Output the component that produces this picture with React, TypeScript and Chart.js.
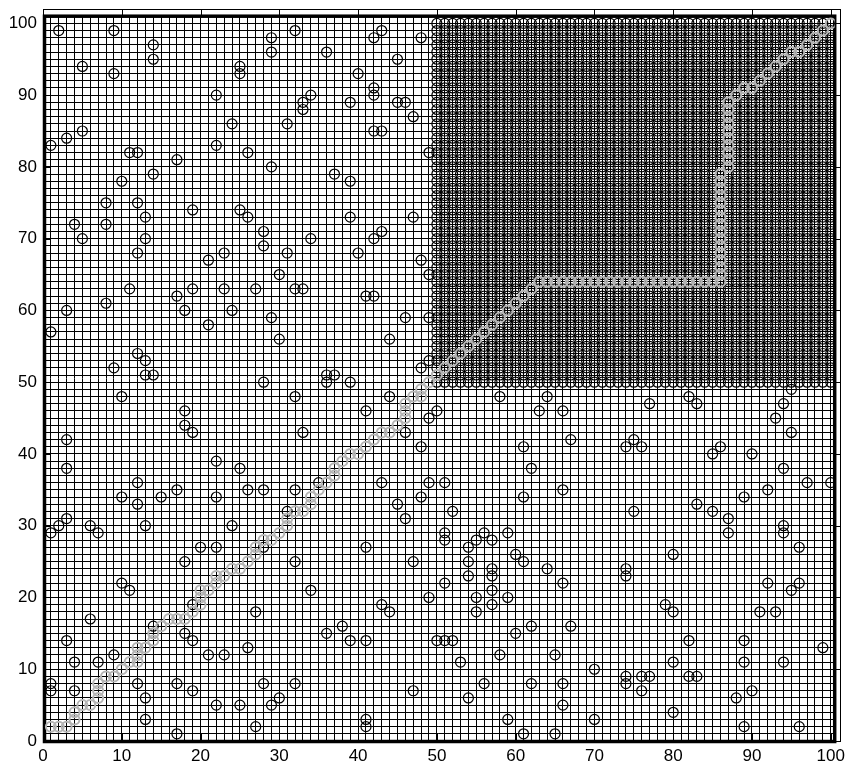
import React, { useEffect, useRef } from 'react';
import { Chart, registerables } from 'chart.js';

Chart.register(...registerables);

// ---- axis / tick data ----
const X_TICKS = [0, 10, 20, 30, 40, 50, 60, 70, 80, 90, 100];
const Y_TICKS = [0, 10, 20, 30, 40, 50, 60, 70, 80, 90, 100];
const GRID_X_END = 100.5;
const GRID_Y_END = 101;
const AXIS_X_MAX = 101.2;
const AXIS_Y_MAX = 102;

// ---- scattered obstacles (x, y) ----
const OBSTACLES_UPPER_LEFT: [number, number][] = [
  [2, 99], [9, 99], [32, 99], [43, 99], [29, 98], [42, 98], [48, 98], [14, 97], [29, 96], [36, 96],
  [14, 95], [45, 95], [5, 94], [25, 94], [25, 93], [9, 93], [40, 93], [42, 91], [22, 90], [34, 90],
  [42, 90], [33, 89], [39, 89], [45, 89], [46, 89], [33, 88], [47, 87], [24, 86], [31, 86], [5, 85],
  [42, 85], [43, 85], [3, 84], [1, 83], [22, 83], [11, 82], [12, 82], [26, 82], [49, 82], [17, 81],
  [29, 80], [14, 79], [37, 79], [10, 78], [39, 78], [8, 75], [12, 75], [19, 74], [25, 74], [13, 73],
  [26, 73], [39, 73], [47, 73], [4, 72], [8, 72], [28, 71], [43, 71], [5, 70], [13, 70], [34, 70],
  [42, 70], [28, 69], [12, 68], [23, 68], [31, 68], [40, 68], [21, 67], [48, 67], [30, 65], [49, 65],
  [11, 63], [19, 63], [23, 63], [27, 63], [32, 63], [33, 63], [17, 62], [41, 62], [42, 62], [8, 61],
  [3, 60], [18, 60], [24, 60], [29, 59], [46, 59], [49, 59], [21, 58], [1, 57], [30, 56], [44, 56],
  [12, 54], [13, 53], [9, 52], [48, 52], [13, 51], [14, 51], [36, 51], [37, 51], [49, 53],
];

const OBSTACLES_LOWER_LEFT: [number, number][] = [
  [28, 50], [36, 50], [39, 50], [10, 48], [32, 48], [44, 48], [18, 46], [41, 46], [49, 45], [18, 44],
  [19, 43], [33, 43], [46, 43], [3, 42], [48, 41], [22, 39], [3, 38], [25, 38], [12, 36], [35, 36],
  [43, 36], [49, 36], [17, 35], [26, 35], [28, 35], [32, 35], [10, 34], [15, 34], [22, 34], [48, 34],
  [12, 33], [45, 33], [31, 32], [3, 31], [46, 31], [2, 30], [6, 30], [13, 30], [24, 30], [1, 29],
  [7, 29], [20, 27], [22, 27], [28, 27], [41, 27], [18, 25], [32, 25], [47, 25], [10, 22], [11, 21],
  [34, 21], [49, 20], [19, 19], [43, 19], [27, 18], [44, 18], [6, 17], [14, 16], [38, 16], [14, 15],
  [18, 15], [36, 15], [3, 14], [19, 14], [39, 14], [41, 14], [26, 13], [9, 12], [21, 12], [23, 12],
  [4, 11], [7, 11], [1, 8], [12, 8], [17, 8], [28, 8], [32, 8], [1, 7], [4, 7], [19, 7],
  [47, 7], [13, 6], [30, 6], [22, 5], [25, 5], [29, 5], [13, 3], [41, 3], [27, 2], [41, 2],
  [17, 1],
];

const OBSTACLES_LOWER_RIGHT: [number, number][] = [
  [58, 48], [64, 48], [82, 48], [95, 49], [77, 47], [83, 47], [94, 47], [50, 46], [63, 46], [66, 46],
  [93, 45], [95, 43], [67, 42], [75, 42], [61, 41], [74, 41], [76, 41], [86, 41], [85, 40], [90, 40],
  [62, 38], [94, 38], [51, 36], [97, 36], [100, 36], [66, 35], [92, 35], [61, 34], [89, 34], [83, 33],
  [52, 32], [75, 32], [85, 32], [87, 31], [94, 30], [51, 29], [56, 29], [59, 29], [87, 29], [94, 29],
  [51, 28], [55, 28], [57, 28], [54, 27], [96, 27], [60, 26], [80, 26], [54, 25], [61, 25], [57, 24],
  [64, 24], [74, 24], [54, 23], [57, 23], [74, 23], [51, 22], [66, 22], [92, 22], [96, 22], [57, 21],
  [95, 21], [55, 20], [59, 20], [57, 19], [79, 19], [55, 18], [80, 18], [91, 18], [93, 18], [62, 16],
  [67, 16], [60, 15], [50, 14], [51, 14], [52, 14], [82, 14], [89, 14], [99, 13], [58, 12], [65, 12],
  [53, 11], [80, 11], [89, 11], [94, 11], [70, 10], [74, 9], [76, 9], [77, 9], [82, 9], [83, 9],
  [56, 8], [62, 8], [66, 8], [74, 8], [76, 7], [90, 7], [54, 6], [88, 6], [66, 5], [80, 4],
  [59, 3], [70, 3], [89, 2], [96, 2], [61, 1], [65, 1],
];

// ---- fully blocked square (every column x every row) ----
const BLOCK_COLS = [
  50, 51, 52, 53, 54, 55, 56, 57, 58, 59, 60, 61, 62, 63, 64, 65, 66, 67, 68, 69,
  70, 71, 72, 73, 74, 75, 76, 77, 78, 79, 80, 81, 82, 83, 84, 85, 86, 87, 88, 89,
  90, 91, 92, 93, 94, 95, 96, 97, 98, 99, 100,
];
const BLOCK_ROWS = [
  50, 51, 52, 53, 54, 55, 56, 57, 58, 59, 60, 61, 62, 63, 64, 65, 66, 67, 68, 69,
  70, 71, 72, 73, 74, 75, 76, 77, 78, 79, 80, 81, 82, 83, 84, 85, 86, 87, 88, 89,
  90, 91, 92, 93, 94, 95, 96, 97, 98, 99, 100,
];

// ---- path (gray) ----
const PATH_POINTS: [number, number][] = [
  [1, 2], [2, 2], [3, 2], [4, 3], [4, 4], [5, 5], [6, 5], [7, 6], [7, 7], [7, 8],
  [8, 9], [9, 9], [10, 10], [11, 11], [12, 11], [12, 12], [12, 13], [13, 13], [14, 14], [14, 15],
  [15, 16], [16, 17], [17, 17], [18, 17], [19, 18], [20, 19], [20, 20], [20, 21], [21, 21], [22, 22],
  [22, 23], [23, 23], [24, 24], [25, 24], [26, 25], [27, 26], [27, 27], [28, 28], [29, 28], [30, 29],
  [31, 30], [31, 31], [32, 32], [33, 32], [34, 33], [34, 34], [35, 35], [36, 36], [37, 37], [37, 38],
  [38, 39], [39, 40], [40, 40], [41, 41], [42, 42], [43, 43], [44, 43], [45, 44], [46, 45], [46, 46],
  [46, 47], [47, 48], [48, 48], [48, 49], [49, 50], [50, 51], [51, 52], [52, 53], [53, 54], [54, 55],
  [55, 56], [56, 57], [57, 58], [58, 59], [59, 60], [60, 61], [61, 62], [62, 63], [63, 64], [64, 64],
  [65, 64], [66, 64], [67, 64], [68, 64], [69, 64], [70, 64], [71, 64], [72, 64], [73, 64], [74, 64],
  [75, 64], [76, 64], [77, 64], [78, 64], [79, 64], [80, 64], [81, 64], [82, 64], [83, 64], [84, 64],
  [85, 64], [86, 64], [86, 65], [86, 66], [86, 67], [86, 68], [86, 69], [86, 70], [86, 71], [86, 72],
  [86, 73], [86, 74], [86, 75], [86, 76], [86, 77], [86, 78], [86, 79], [87, 80], [87, 81], [87, 82],
  [87, 83], [87, 84], [87, 85], [87, 86], [87, 87], [87, 88], [87, 89], [88, 90], [89, 91], [90, 91],
  [91, 92], [92, 93], [93, 94], [94, 95], [95, 96], [96, 96], [97, 97], [98, 98], [99, 99], [100, 100],
];

const FONT_FAMILY = '"Liberation Sans", Arial, Helvetica, sans-serif';

const toXY = (pts: [number, number][]) => pts.map(([x, y]) => ({ x, y }));

const framePlugin = {
  id: 'matlabFrame',
  beforeDatasetsDraw(chart: any) {
    const { ctx } = chart;
    const xs = chart.scales.x;
    const ys = chart.scales.y;
    const L = xs.getPixelForValue(0);
    const R = xs.getPixelForValue(GRID_X_END);
    const B = ys.getPixelForValue(0);
    const T = ys.getPixelForValue(GRID_Y_END);
    ctx.save();
    ctx.strokeStyle = '#000';
    ctx.lineWidth = 3.5;
    ctx.strokeRect(L + 1.5, T, R - L - 1.5, B - T + 0.5);
    ctx.restore();
  },
  afterDraw(chart: any) {
    const { ctx } = chart;
    const xs = chart.scales.x;
    const ys = chart.scales.y;
    const L = xs.getPixelForValue(0);
    const R = xs.getPixelForValue(AXIS_X_MAX);
    const B = ys.getPixelForValue(0);
    const T = ys.getPixelForValue(AXIS_Y_MAX);
    ctx.save();
    ctx.strokeStyle = '#000';
    ctx.lineWidth = 1;
    ctx.strokeRect(Math.round(L) + 0.5, Math.round(T) + 0.5, Math.round(R - L), Math.round(B - T));
    const len = 7;
    ctx.beginPath();
    for (const v of X_TICKS) {
      const px = Math.round(xs.getPixelForValue(v)) + 0.5;
      ctx.moveTo(px, B);
      ctx.lineTo(px, B - len);
      ctx.moveTo(px, T);
      ctx.lineTo(px, T + len);
    }
    for (const v of Y_TICKS) {
      const py = Math.round(ys.getPixelForValue(v)) + 0.5;
      ctx.moveTo(L, py);
      ctx.lineTo(L + len, py);
      ctx.moveTo(R, py);
      ctx.lineTo(R - len, py);
    }
    ctx.stroke();
    ctx.restore();
  },
};

export default function App() {
  const ref = useRef<HTMLCanvasElement | null>(null);

  useEffect(() => {
    if (!ref.current) return;
    const blockPts: { x: number; y: number }[] = [];
    for (const c of BLOCK_COLS) for (const r of BLOCK_ROWS) blockPts.push({ x: c, y: r });
    const obstacles = [
      ...toXY(OBSTACLES_UPPER_LEFT),
      ...toXY(OBSTACLES_LOWER_LEFT),
      ...toXY(OBSTACLES_LOWER_RIGHT),
      ...blockPts,
    ];

    const chart = new Chart(ref.current, {
      type: 'scatter',
      data: {
        datasets: [
          {
            label: 'path',
            data: toXY(PATH_POINTS),
            order: 0,
            pointStyle: 'circle',
            pointRadius: 5,
            pointBorderWidth: 2,
            pointBorderColor: '#b4b4b4',
            pointBackgroundColor: 'rgba(0,0,0,0)',
            showLine: false,
          },
          {
            label: 'obstacles',
            data: obstacles,
            order: 1,
            pointStyle: 'circle',
            pointRadius: 5,
            pointBorderWidth: 1.2,
            pointBorderColor: '#000',
            pointBackgroundColor: 'rgba(0,0,0,0)',
            showLine: false,
          },
        ],
      },
      options: {
        responsive: false,
        animation: false,
        events: [],
        layout: { padding: { top: 15, right: 13, left: 0, bottom: 0 } },
        plugins: { legend: { display: false }, tooltip: { enabled: false } },
        scales: {
          x: {
            type: 'linear',
            min: 0,
            max: GRID_X_END,
            afterFit: (s: any) => {
              s.height = 25;
            },
            ticks: {
              stepSize: 1,
              autoSkip: false,
              maxRotation: 0,
              minRotation: 0,
              includeBounds: false,
              color: '#000',
              padding: 5,
              font: { family: FONT_FAMILY, size: 17 },
              callback: (v: any) => (X_TICKS.includes(Number(v)) ? String(v) : ''),
            },
            grid: { color: '#000', lineWidth: 1, drawTicks: false },
            border: { display: false },
          },
          y: {
            type: 'linear',
            min: 0,
            max: GRID_Y_END,
            afterFit: (s: any) => {
              s.width = 43;
            },
            ticks: {
              stepSize: 1,
              autoSkip: false,
              includeBounds: false,
              color: '#000',
              padding: 6,
              font: { family: FONT_FAMILY, size: 17 },
              callback: (v: any) => (Y_TICKS.includes(Number(v)) ? String(v) : ''),
            },
            grid: { color: '#000', lineWidth: 1, drawTicks: false },
            border: { display: false },
          },
        },
      },
      plugins: [framePlugin],
    });
    return () => chart.destroy();
  }, []);

  return (
    <div style={{ position: 'absolute', left: 0, top: 0, width: 850, height: 766, background: '#fff' }}>
      <canvas ref={ref} width={850} height={766} style={{ display: 'block', width: 850, height: 766 }} />
    </div>
  );
}
